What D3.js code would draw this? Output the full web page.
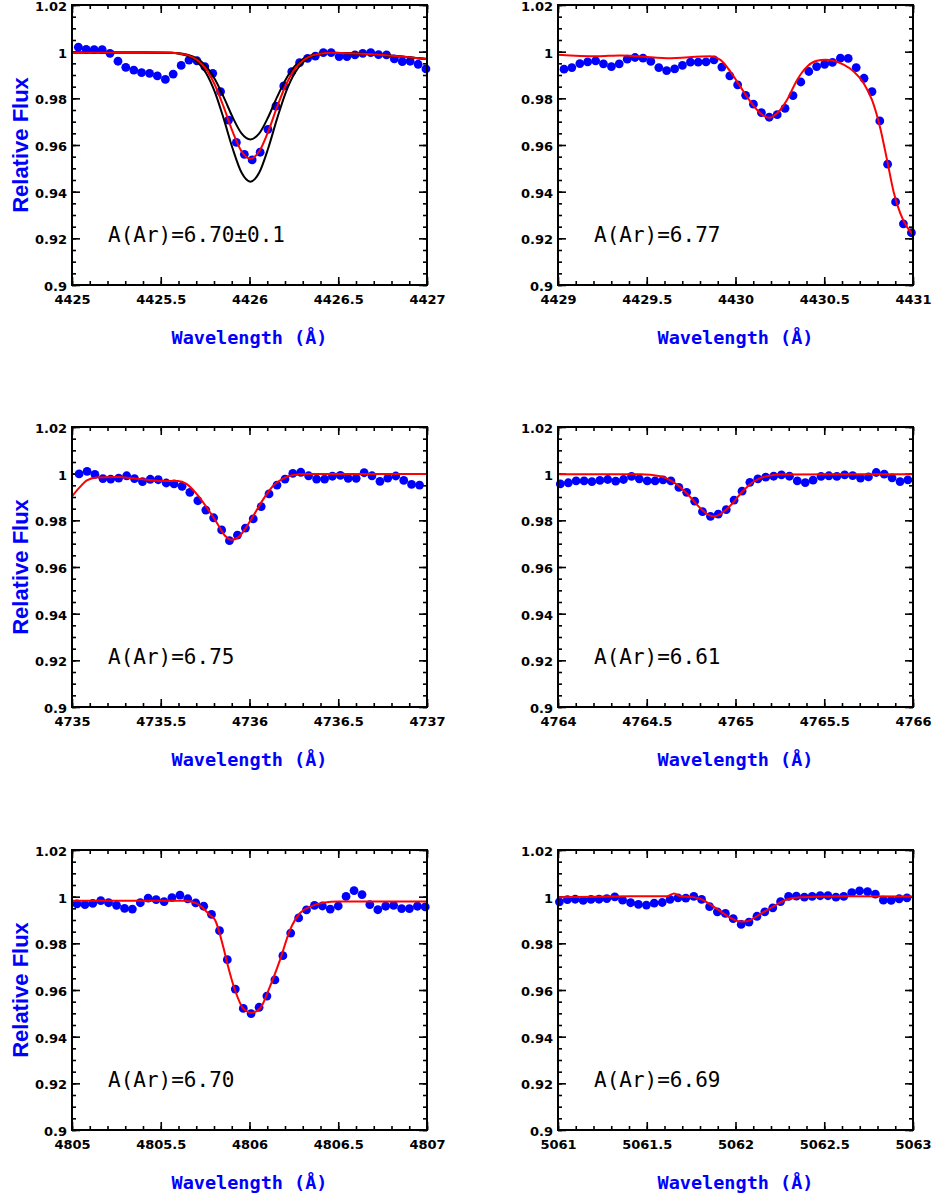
<!DOCTYPE html>
<html>
<head>
<meta charset="utf-8">
<script src="https://cdn.jsdelivr.net/npm/d3@7"></script>
<style>
  body { margin: 0; background: #fff; }
  .tick text { font-family: "DejaVu Sans", sans-serif; font-weight: bold; font-size: 13px; fill: #000; }
</style>
</head>
<body>
<script>
// ---- data ----
// observed spectra (blue dots)
var wl1 = [4425.036,4425.080,4425.125,4425.170,4425.214,4425.259,4425.303,4425.348,4425.392,4425.437,4425.481,4425.526,4425.570,4425.615,4425.659,4425.704,4425.748,4425.793,4425.837,4425.882,4425.926,4425.971,4426.015,4426.060,4426.104,4426.149,4426.193,4426.238,4426.282,4426.327,4426.371,4426.416,4426.460,4426.505,4426.549,4426.594,4426.638,4426.683,4426.727,4426.772,4426.816,4426.861,4426.905,4426.950,4426.994];
var flux1 = [1.0019,1.0010,1.0009,1.0009,0.9993,0.9959,0.9933,0.9921,0.9910,0.9907,0.9896,0.9881,0.9904,0.9941,0.9964,0.9961,0.9936,0.9907,0.9829,0.9707,0.9611,0.9560,0.9536,0.9569,0.9667,0.9767,0.9853,0.9914,0.9953,0.9971,0.9981,0.9996,0.9996,0.9979,0.9979,0.9986,0.9993,0.9996,0.9987,0.9986,0.9969,0.9957,0.9959,0.9946,0.9926];

var wl2 = [4429.034,4429.078,4429.123,4429.167,4429.212,4429.256,4429.301,4429.345,4429.390,4429.434,4429.479,4429.523,4429.568,4429.612,4429.657,4429.701,4429.746,4429.790,4429.834,4429.879,4429.923,4429.968,4430.012,4430.057,4430.101,4430.146,4430.190,4430.235,4430.279,4430.324,4430.368,4430.413,4430.457,4430.502,4430.546,4430.591,4430.635,4430.680,4430.724,4430.769,4430.813,4430.857,4430.902,4430.946,4430.991];
var flux2 = [0.9925,0.9932,0.9949,0.9956,0.9961,0.9948,0.9936,0.9948,0.9968,0.9975,0.9972,0.9958,0.9932,0.9919,0.9926,0.9941,0.9955,0.9955,0.9956,0.9965,0.9934,0.9896,0.9858,0.9813,0.9775,0.9739,0.9719,0.9730,0.9757,0.9812,0.9870,0.9915,0.9936,0.9946,0.9954,0.9972,0.9971,0.9932,0.9886,0.9829,0.9703,0.9518,0.9356,0.9262,0.9224];

var wl3 = [4735.040,4735.085,4735.129,4735.174,4735.218,4735.263,4735.308,4735.352,4735.397,4735.441,4735.486,4735.531,4735.575,4735.620,4735.664,4735.709,4735.754,4735.798,4735.843,4735.887,4735.932,4735.977,4736.021,4736.066,4736.110,4736.155,4736.200,4736.244,4736.289,4736.333,4736.378,4736.423,4736.467,4736.512,4736.556,4736.601,4736.646,4736.690,4736.735,4736.779,4736.824,4736.869,4736.913,4736.958];
var flux3 = [0.9999,1.0010,0.9997,0.9979,0.9977,0.9981,0.9991,0.9979,0.9966,0.9976,0.9974,0.9960,0.9956,0.9946,0.9920,0.9884,0.9844,0.9811,0.9759,0.9713,0.9737,0.9767,0.9806,0.9859,0.9913,0.9951,0.9977,1.0001,1.0006,0.9991,0.9977,0.9977,0.9989,0.9993,0.9980,0.9980,1.0004,0.9991,0.9967,0.9981,0.9990,0.9971,0.9954,0.9951];

var wl4 = [4764.013,4764.058,4764.102,4764.147,4764.191,4764.236,4764.280,4764.325,4764.369,4764.414,4764.458,4764.503,4764.547,4764.592,4764.636,4764.681,4764.725,4764.770,4764.814,4764.859,4764.903,4764.948,4764.992,4765.037,4765.081,4765.126,4765.170,4765.215,4765.259,4765.304,4765.348,4765.393,4765.437,4765.482,4765.526,4765.571,4765.615,4765.660,4765.704,4765.749,4765.793,4765.838,4765.882,4765.927,4765.971];
var flux4 = [0.9956,0.9961,0.9969,0.9969,0.9966,0.9971,0.9975,0.9968,0.9975,0.9988,0.9978,0.9969,0.9969,0.9973,0.9969,0.9941,0.9920,0.9882,0.9837,0.9817,0.9827,0.9846,0.9887,0.9925,0.9963,0.9978,0.9985,0.9989,0.9995,0.9989,0.9969,0.9962,0.9972,0.9988,0.9991,0.9988,0.9995,0.9992,0.9981,0.9986,1.0005,0.9998,0.9982,0.9966,0.9973];

var wl5 = [4805.028,4805.073,4805.117,4805.162,4805.206,4805.251,4805.296,4805.340,4805.385,4805.429,4805.474,4805.519,4805.563,4805.608,4805.652,4805.697,4805.742,4805.786,4805.831,4805.875,4805.920,4805.965,4806.009,4806.054,4806.098,4806.143,4806.188,4806.232,4806.277,4806.321,4806.366,4806.411,4806.455,4806.500,4806.544,4806.589,4806.634,4806.678,4806.723,4806.767,4806.812,4806.857,4806.901,4806.946,4806.990];
var flux5 = [0.9969,0.9966,0.9971,0.9983,0.9974,0.9963,0.9950,0.9947,0.9974,0.9994,0.9987,0.9979,0.9996,1.0007,0.9991,0.9973,0.9959,0.9924,0.9854,0.9730,0.9604,0.9521,0.9499,0.9526,0.9574,0.9643,0.9747,0.9844,0.9909,0.9943,0.9963,0.9960,0.9947,0.9960,1.0001,1.0026,1.0009,0.9966,0.9944,0.9959,0.9963,0.9949,0.9949,0.9959,0.9956];

var wl6 = [5061.008,5061.053,5061.097,5061.142,5061.186,5061.231,5061.275,5061.320,5061.364,5061.409,5061.453,5061.498,5061.542,5061.587,5061.631,5061.676,5061.720,5061.765,5061.809,5061.854,5061.898,5061.943,5061.987,5062.032,5062.076,5062.121,5062.165,5062.210,5062.254,5062.299,5062.343,5062.388,5062.432,5062.477,5062.521,5062.566,5062.610,5062.655,5062.699,5062.744,5062.788,5062.833,5062.877,5062.922,5062.966];
var flux6 = [0.9978,0.9987,0.9989,0.9984,0.9988,0.9989,0.9992,0.9999,0.9985,0.9974,0.9967,0.9964,0.9972,0.9975,0.9988,0.9995,0.9994,1.0001,0.9988,0.9957,0.9935,0.9928,0.9906,0.9881,0.9891,0.9916,0.9935,0.9952,0.9979,1.0001,1.0002,0.9998,1.0001,1.0004,1.0004,0.9998,1.0001,1.0017,1.0025,1.0022,1.0011,0.9985,0.9984,0.9991,0.9995];

// synthetic fits (red), plus the +-0.1 dex curves (black) for the first line
var modWl1 = [4425.000,4425.400,4425.555,4425.605,4425.655,4425.705,4425.755,4425.805,4425.855,4425.905,4425.955,4426.005,4426.055,4426.105,4426.155,4426.205,4426.255,4426.305,4426.355,4426.405,4426.455,4426.600,4426.800,4427.000];
var modFlux1 = [0.9996,0.9996,0.9995,0.9992,0.9984,0.9964,0.9925,0.9857,0.9762,0.9657,0.9573,0.9541,0.9573,0.9657,0.9762,0.9857,0.9925,0.9964,0.9984,0.9992,0.9995,0.9992,0.9983,0.9969];
var modHigh1 = [0.9996,0.9996,0.9995,0.9993,0.9986,0.9970,0.9938,0.9882,0.9805,0.9719,0.9650,0.9624,0.9650,0.9719,0.9805,0.9882,0.9938,0.9970,0.9986,0.9993,0.9995,0.9992,0.9983,0.9969];
var modLow1 = [0.9996,0.9996,0.9995,0.9991,0.9981,0.9957,0.9909,0.9827,0.9712,0.9585,0.9482,0.9443,0.9482,0.9585,0.9712,0.9827,0.9909,0.9957,0.9981,0.9991,0.9995,0.9992,0.9983,0.9969];

var modWl2 = [4429.000,4429.220,4429.351,4429.614,4429.858,4429.915,4429.971,4430.027,4430.084,4430.140,4430.187,4430.234,4430.290,4430.347,4430.403,4430.459,4430.506,4430.553,4430.609,4430.666,4430.722,4430.769,4430.816,4430.854,4430.891,4430.929,4430.966,4431.000];
var modFlux2 = [0.9987,0.9980,0.9984,0.9972,0.9980,0.9965,0.9915,0.9850,0.9786,0.9736,0.9717,0.9736,0.9793,0.9879,0.9936,0.9961,0.9965,0.9961,0.9944,0.9915,0.9865,0.9793,0.9671,0.9535,0.9399,0.9306,0.9249,0.9217];

var modWl3 = [4735.000,4735.043,4735.081,4735.137,4735.250,4735.382,4735.495,4735.598,4735.645,4735.702,4735.758,4735.815,4735.862,4735.899,4735.937,4735.975,4736.022,4736.078,4736.135,4736.191,4736.247,4736.323,4737.000];
var modFlux3 = [0.9903,0.9941,0.9970,0.9984,0.9986,0.9977,0.9969,0.9969,0.9956,0.9913,0.9856,0.9791,0.9734,0.9717,0.9727,0.9763,0.9820,0.9891,0.9949,0.9980,0.9994,0.9999,0.9999];

var modWl4 = [4764.000,4764.464,4764.577,4764.633,4764.689,4764.746,4764.802,4764.858,4764.877,4764.915,4764.971,4765.027,4765.084,4765.140,4765.196,4765.253,4766.000];
var modFlux4 = [0.9998,0.9998,0.9989,0.9971,0.9942,0.9899,0.9852,0.9820,0.9817,0.9827,0.9863,0.9913,0.9956,0.9981,0.9992,0.9996,0.9998];

var modWl5 = [4805.000,4805.640,4805.702,4805.749,4805.777,4805.806,4805.852,4805.875,4805.918,4805.965,4806.012,4806.059,4806.115,4806.172,4806.228,4806.285,4806.341,4806.416,4806.500,4807.000];
var modFlux5 = [0.9983,0.9983,0.9971,0.9943,0.9921,0.9900,0.9785,0.9714,0.9600,0.9521,0.9503,0.9521,0.9614,0.9729,0.9857,0.9930,0.9957,0.9974,0.9979,0.9979];

var modWl6 = [5061.000,5061.312,5061.613,5061.654,5061.688,5061.763,5061.801,5061.857,5061.914,5061.970,5062.026,5062.064,5062.120,5062.177,5062.233,5062.289,5062.365,5062.628,5063.000];
var modFlux6 = [0.9997,1.0001,1.0002,1.0014,1.0002,0.9998,0.9991,0.9967,0.9938,0.9910,0.9894,0.9895,0.9916,0.9942,0.9967,0.9988,0.9998,1.0002,1.0001];

// axes and labels
var xDomains = [[4425, 4427], [4429, 4431], [4735, 4737], [4764, 4766], [4805, 4807], [5061, 5063]];
var xTicks = [
  [4425, 4425.5, 4426, 4426.5, 4427],
  [4429, 4429.5, 4430, 4430.5, 4431],
  [4735, 4735.5, 4736, 4736.5, 4737],
  [4764, 4764.5, 4765, 4765.5, 4766],
  [4805, 4805.5, 4806, 4806.5, 4807],
  [5061, 5061.5, 5062, 5062.5, 5063]
];
var yTicks = [0.9, 0.92, 0.94, 0.96, 0.98, 1, 1.02];
var yTickLabels = ["0.9", "0.92", "0.94", "0.96", "0.98", "1", "1.02"];
var abundLabels = ["A(Ar)=6.70\u00b10.1", "A(Ar)=6.77", "A(Ar)=6.75", "A(Ar)=6.61", "A(Ar)=6.70", "A(Ar)=6.69"];

// ---- layout ----
var svgWidth = 935, svgHeight = 1201;
var plotW = 355, plotH = 280;
var colLeft = [72, 558];
var rowTop = [5, 427, 850];

var panels = [
  {wl: wl1, flux: flux1, mods: [{wl: modWl1, f: modHigh1, c: "#000"}, {wl: modWl1, f: modLow1, c: "#000"}, {wl: modWl1, f: modFlux1, c: "#ff0000"}]},
  {wl: wl2, flux: flux2, mods: [{wl: modWl2, f: modFlux2, c: "#ff0000"}]},
  {wl: wl3, flux: flux3, mods: [{wl: modWl3, f: modFlux3, c: "#ff0000"}]},
  {wl: wl4, flux: flux4, mods: [{wl: modWl4, f: modFlux4, c: "#ff0000"}]},
  {wl: wl5, flux: flux5, mods: [{wl: modWl5, f: modFlux5, c: "#ff0000"}]},
  {wl: wl6, flux: flux6, mods: [{wl: modWl6, f: modFlux6, c: "#ff0000"}]}
];

var svg = d3.select("body").append("svg")
  .attr("width", svgWidth)
  .attr("height", svgHeight);

var y = d3.scaleLinear().domain([0.9, 1.02]).range([plotH, 0]);
var yMinor = d3.range(0.9, 1.0201, 0.005);

panels.forEach(function(p, i) {
  var col = i % 2, row = Math.floor(i / 2);
  var g = svg.append("g")
    .attr("transform", `translate(${colLeft[col]}, ${rowTop[row]})`);

  var x = d3.scaleLinear().domain(xDomains[i]).range([0, plotW]);
  var xMinor = d3.range(xDomains[i][0], xDomains[i][1] + 0.001, 0.1);

  // minor ticks on all four sides
  g.append("g").call(d3.axisLeft(y).tickValues(yMinor).tickSize(-4).tickFormat(""));
  g.append("g").attr("transform", `translate(${plotW},0)`)
    .call(d3.axisRight(y).tickValues(yMinor).tickSize(-4).tickFormat(""));
  g.append("g").attr("transform", `translate(0,${plotH})`)
    .call(d3.axisBottom(x).tickValues(xMinor).tickSize(-4).tickFormat(""));
  g.append("g").call(d3.axisTop(x).tickValues(xMinor).tickSize(-4).tickFormat(""));

  // major ticks
  g.append("g").attr("class", "yaxis")
    .call(d3.axisLeft(y).tickValues(yTicks).tickSize(-8).tickPadding(5)
      .tickFormat(function(d, k) { return yTickLabels[k]; }))
    .selectAll("text").attr("dy", "0.42em");
  g.append("g").attr("transform", `translate(${plotW},0)`)
    .call(d3.axisRight(y).tickValues(yTicks).tickSize(-8).tickFormat(""));
  g.append("g").attr("transform", `translate(0,${plotH})`)
    .call(d3.axisBottom(x).tickValues(xTicks[i]).tickSize(-8).tickPadding(10)
      .tickFormat(function(d) { return String(d); }));
  g.append("g").call(d3.axisTop(x).tickValues(xTicks[i]).tickSize(-8).tickFormat(""));

  g.selectAll(".domain").remove();
  g.selectAll(".tick line").attr("stroke", "#000").attr("stroke-width", 1.6);

  // data points
  g.selectAll("circle")
    .data(p.wl.map(function(w, k) { return [w, p.flux[k]]; }))
    .enter()
    .append("circle")
    .attr("cx", function(d) { return x(d[0]); })
    .attr("cy", function(d) { return y(d[1]); })
    .attr("r", 4.4)
    .attr("fill", "#0000ff");

  // model curves
  var line = d3.line()
    .x(function(d) { return x(d[0]); })
    .y(function(d) { return y(d[1]); })
    .curve(d3.curveMonotoneX);
  p.mods.forEach(function(m) {
    g.append("path")
      .datum(m.wl.map(function(w, k) { return [w, m.f[k]]; }))
      .attr("d", line)
      .attr("fill", "none")
      .attr("stroke", m.c)
      .attr("stroke-width", 2);
  });

  // frame
  g.append("rect")
    .attr("width", plotW).attr("height", plotH)
    .attr("fill", "none").attr("stroke", "#000").attr("stroke-width", 2);

  // abundance label
  g.append("text")
    .attr("x", 36).attr("y", 237)
    .style("font-family", "'DejaVu Sans Mono', monospace")
    .style("font-size", "21px")
    .attr("fill", "#000")
    .text(abundLabels[i]);

  // x axis title
  g.append("text")
    .attr("x", plotW / 2).attr("y", plotH + 59)
    .attr("text-anchor", "middle")
    .style("font-family", "'DejaVu Sans Mono', monospace")
    .style("font-weight", "bold")
    .style("font-size", "18.5px")
    .attr("fill", "#0000ff")
    .text("Wavelength (\u00c5)");

  // y axis title on the left column only
  if (col === 0) {
    g.append("text")
      .attr("transform", `translate(${28 - colLeft[0]}, ${plotH / 2}) rotate(-90)`)
      .attr("text-anchor", "middle")
      .style("font-family", "'Liberation Sans', Arial, sans-serif")
      .style("font-weight", "bold")
      .style("font-size", "22px")
      .attr("fill", "#0000ff")
      .text("Relative Flux");
  }
});
</script>
</body>
</html>
